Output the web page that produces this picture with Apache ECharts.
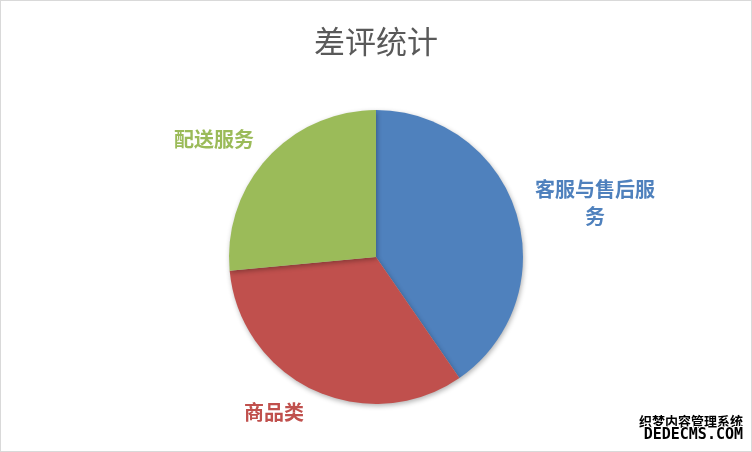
<!DOCTYPE html>
<html>
<head>
<meta charset="utf-8">
<script src="https://cdn.jsdelivr.net/npm/echarts@6/dist/echarts.min.js"></script>
<style>
html,body{margin:0;padding:0;background:#fff;}
#chart{width:752px;height:452px;box-sizing:border-box;border:1px solid #d9d9d9;}
</style>
</head>
<body>
<div id="chart"></div>
<script>
var categories = ['客服与售后服务', '商品类', '配送服务'];
var values = [61, 50, 40];
var colors = ['#4F81BD', '#C0504D', '#9BBB59'];
var titleText = '差评统计';

// label anchor positions (layout only)
var labelPos = [[594, 202], [273, 411], [213, 138]];

var chart = echarts.init(document.getElementById('chart'));
chart.setOption({
  backgroundColor: '#fff',
  animation: false,
  title: {
    text: titleText,
    left: 'center',
    top: 20,
    textStyle: { fontFamily: 'Noto Sans CJK SC', fontSize: 31, fontWeight: 'normal', color: '#595959' }
  },
  series: [{
    type: 'pie',
    center: [375, 256],
    radius: 147,
    startAngle: 90,
    clockwise: true,
    data: categories.map(function (c, i) {
      return { name: c, value: values[i], itemStyle: { color: colors[i] }, label: { color: colors[i] } };
    }),
    itemStyle: {
      borderWidth: 0,
      shadowBlur: 5,
      shadowOffsetX: 1,
      shadowOffsetY: 2,
      shadowColor: 'rgba(0,0,0,0.3)'
    },
    label: {
      show: true,
      position: 'outside',
      formatter: '{b}',
      fontFamily: 'Noto Sans CJK SC',
      fontSize: 20,
      fontWeight: 'bold',
      lineHeight: 27,
      width: 130,
      overflow: 'break',
      align: 'center'
    },
    labelLine: { show: false },
    labelLayout: function (params) {
      var p = labelPos[params.dataIndex];
      return { x: p[0], y: p[1], align: 'center', verticalAlign: 'middle' };
    }
  }],
  graphic: [{
    type: 'text',
    right: 7,
    bottom: 22,
    style: {
      text: '织梦内容管理系统',
      font: 'bold 13px "Noto Sans CJK SC"',
      fill: '#000',
      stroke: '#fff',
      lineWidth: 2
    }
  }, {
    type: 'text',
    right: 7,
    bottom: 7,
    style: {
      text: 'DEDECMS.COM',
      font: 'bold 15px "DejaVu Sans Mono"',
      fill: '#000',
      stroke: '#fff',
      lineWidth: 2
    }
  }]
});
</script>
</body>
</html>
